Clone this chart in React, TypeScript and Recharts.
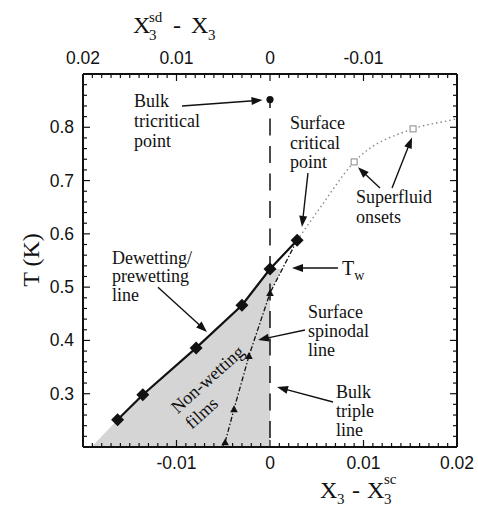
import React from 'react';
import { ComposedChart, XAxis, YAxis, Line, Area, Scatter, ReferenceLine } from 'recharts';

const SERIF = '"Liberation Serif", "Times New Roman", serif';
const SANS = '"Liberation Sans", Arial, sans-serif';
const INK = '#111';

// Dewetting / prewetting line (filled diamonds)
const dewetX = [-0.0163, -0.0136, -0.0079, -0.003, 0.0, 0.0029];
const dewetT = [0.251, 0.298, 0.386, 0.466, 0.534, 0.588];

// Shaded non-wetting region boundary (bottom corner, dewetting line up to T_w, spinodal sliver, down x=0)
const shadeX = [-0.0191, -0.0163, -0.0136, -0.0079, -0.003, 0.0, 0.0013, 0.0];
const shadeT = [0.2, 0.251, 0.298, 0.386, 0.466, 0.534, 0.534, 0.489];

// Surface spinodal line (dash-dot, small triangles)
const spinX = [0.0029, 0.0, -0.00225, -0.00385, -0.0048];
const spinT = [0.588, 0.489, 0.371, 0.271, 0.209];

// Superfluid onset curve (dotted, open squares)
const sfX = [0.0029, 0.0054, 0.009, 0.0153, 0.0195, 0.02];
const sfT = [0.588, 0.65, 0.735, 0.797, 0.814, 0.816];
const sfMarkX = [0.009, 0.0153];
const sfMarkT = [0.735, 0.797];

// Bulk tricritical point and bulk triple line
const triX = [0.0];
const triT = [0.852];
const tripleX = [0.0, 0.0];
const tripleT = [0.852, 0.2];

// Axis ticks
const xMajor = [-0.02, -0.01, 0, 0.01, 0.02];
const xBottomLabels = [-0.01, 0, 0.01, 0.02];
const xTopLabels = [-0.02, -0.01, 0, 0.01];
const xAllTicks = Array.from({ length: 41 }, (_, i) => (i - 20) / 1000);
const yMajor = [0.2, 0.3, 0.4, 0.5, 0.6, 0.7, 0.8, 0.9];
const yLabels = [0.3, 0.4, 0.5, 0.6, 0.7, 0.8];
const yAllTicks = Array.from({ length: 36 }, (_, i) => (20 + 2 * i) / 100);

// Annotations (left x, first-line centre y, line height)
const notes = [
  { x: -0.01455, y: 0.849, lh: 20, lines: ['Bulk', 'tricritical', 'point'] },
  { x: 0.00214, y: 0.808, lh: 19.5, lines: ['Surface', 'critical', 'point'] },
  { x: 0.0092, y: 0.669, lh: 20, lines: ['Superfluid', 'onsets'] },
  { x: -0.0169, y: 0.555, lh: 18.5, lines: ['Dewetting/', 'prewetting', 'line'] },
  { x: 0.00406, y: 0.453, lh: 19, lines: ['Surface', 'spinodal', 'line'] },
  { x: 0.00706, y: 0.303, lh: 19, lines: ['Bulk', 'triple', 'line'] },
];
const twNote = [{ x: 0.0077, y: 0.536 }];
const filmsNote = [{ x: -0.0103, y: 0.2698, lines: ['Non-wetting', 'films'] }];

// Arrows: from -> to
const arrows = [
  { x1: -0.00941, y1: 0.84, x2: -0.0008, y2: 0.851 },
  { x1: 0.00406, y1: 0.714, x2: 0.00342, y2: 0.613 },
  { x1: 0.01176, y1: 0.686, x2: 0.00941, y2: 0.725 },
  { x1: 0.01305, y1: 0.686, x2: 0.01519, y2: 0.781 },
  { x1: 0.00727, y1: 0.536, x2: 0.00235, y2: 0.536 },
  { x1: -0.01198, y1: 0.5, x2: -0.00674, y2: 0.416 },
  { x1: 0.00374, y1: 0.4196, x2: -0.00128, y2: 0.4008 },
  { x1: 0.00674, y1: 0.2844, x2: 0.00075, y2: 0.3126 },
];

const pts = (xs: number[], ts: number[]) => xs.map((x, i) => ({ x, y: ts[i] }));
const near = (list: number[], v: number) => list.some((l) => Math.abs(l - v) < 1e-9);
const fmt = (v: number) => (Math.abs(v) < 1e-12 ? '0' : String(v));

const MAJ = 7;
const MIN = 4;
const tickTextProps = { fontFamily: SANS, fontSize: 17.5, fill: INK };

const BottomTick = (p: any) => {
  const v = p.payload.value;
  const { x, y } = p;
  const len = near(xMajor, v) ? MAJ : MIN;
  return (
    <g>
      <line x1={x} x2={x} y1={y} y2={y - len} stroke={INK} strokeWidth={1.2} />
      {near(xBottomLabels, v) && (
        <text x={x} y={y + 22} textAnchor="middle" {...tickTextProps}>{fmt(v)}</text>
      )}
    </g>
  );
};

const TopTick = (p: any) => {
  const v = p.payload.value;
  const { x, y } = p;
  const len = near(xMajor, v) ? MAJ : MIN;
  return (
    <g>
      <line x1={x} x2={x} y1={y} y2={y + len} stroke={INK} strokeWidth={1.2} />
      {near(xTopLabels, v) && (
        <text x={x} y={y - 10} textAnchor="middle" {...tickTextProps}>{fmt(-v)}</text>
      )}
    </g>
  );
};

const LeftTick = (p: any) => {
  const v = p.payload.value;
  const { x, y } = p;
  const len = near(yMajor, v) ? MAJ : MIN;
  return (
    <g>
      <line x1={x} x2={x + len} y1={y} y2={y} stroke={INK} strokeWidth={1.2} />
      {near(yLabels, v) && (
        <text x={x - 9} y={y + 6} textAnchor="end" {...tickTextProps}>{fmt(v)}</text>
      )}
    </g>
  );
};

const RightTick = (p: any) => {
  const v = p.payload.value;
  const { x, y } = p;
  const len = near(yMajor, v) ? MAJ : MIN;
  return <line x1={x} x2={x - len} y1={y} y2={y} stroke={INK} strokeWidth={1.2} />;
};

const diamond = (p: any) => {
  const { cx, cy, index } = p;
  const s = 6.5;
  return <polygon key={`d${index}`} points={`${cx},${cy - s} ${cx + s},${cy} ${cx},${cy + s} ${cx - s},${cy}`} fill={INK} />;
};

const triangle = (p: any) => {
  const { cx, cy, index } = p;
  if (index === 0) return <g key={`t${index}`} />;
  const s = 3.8;
  return <polygon key={`t${index}`} points={`${cx},${cy - s} ${cx + s},${cy + s * 0.8} ${cx - s},${cy + s * 0.8}`} fill={INK} />;
};

const square = (p: any) => (
  <rect x={p.cx - 3} y={p.cy - 3} width={6} height={6} fill="#fff" stroke="#888" strokeWidth={1} />
);

const circle = (p: any) => <circle cx={p.cx} cy={p.cy} r={3.6} fill={INK} />;

const noteShape = (p: any) => {
  const n = p.payload;
  return (
    <text fontFamily={SERIF} fontSize={18} fill={INK}>
      {n.lines.map((l: string, i: number) => (
        <tspan key={i} x={p.cx} y={p.cy + i * n.lh + 6}>
          {l}
        </tspan>
      ))}
    </text>
  );
};

const twShape = (p: any) => (
  <text x={p.cx} y={p.cy + 7} fontFamily={SERIF} fontSize={20} fill={INK}>
    T<tspan fontSize={14} dy={5}>w</tspan>
  </text>
);

const filmsShape = (p: any) => {
  const n = p.payload;
  return (
    <g transform={`translate(${p.cx},${p.cy}) rotate(-42)`}>
      <text fontFamily={SERIF} fontSize={18} fill={INK}>
        <tspan x={0} y={6}>{n.lines[0]}</tspan>
        <tspan x={0} y={27}>{n.lines[1]}</tspan>
      </text>
    </g>
  );
};

const arrowShape = (p: any) => {
  const { x1, y1, x2, y2 } = p;
  const dx = x2 - x1;
  const dy = y2 - y1;
  const len = Math.hypot(dx, dy) || 1;
  const ux = dx / len;
  const uy = dy / len;
  const hl = 11;
  const hw = 4;
  const bx = x2 - ux * hl;
  const by = y2 - uy * hl;
  return (
    <g>
      <line x1={x1} y1={y1} x2={bx + ux * 2} y2={by + uy * 2} stroke={INK} strokeWidth={1.4} />
      <polygon points={`${x2},${y2} ${bx - uy * hw},${by + ux * hw} ${bx + uy * hw},${by - ux * hw}`} fill={INK} />
    </g>
  );
};

const frame = { stroke: INK, strokeWidth: 2 };
const DOM: [number, number] = [-0.02, 0.02];
const YDOM: [number, number] = [0.2, 0.9];

export default function App() {
  return (
    <div style={{ position: 'absolute', left: 0, top: 0, width: 478, height: 508, background: '#fff' }}>
      <ComposedChart width={478} height={508} margin={{ top: 73, right: 20, bottom: 60, left: 82 }}>
        <XAxis xAxisId="b" dataKey="x" type="number" orientation="bottom" domain={DOM} allowDataOverflow ticks={xAllTicks} interval={0} height={1} tickLine={false} tickSize={0} tickMargin={0} axisLine={frame} tick={BottomTick} />
        <XAxis xAxisId="t" dataKey="x" type="number" orientation="top" domain={DOM} allowDataOverflow ticks={xAllTicks} interval={0} height={1} tickLine={false} tickSize={0} tickMargin={0} axisLine={frame} tick={TopTick} />
        <YAxis yAxisId="l" dataKey="y" type="number" orientation="left" domain={YDOM} allowDataOverflow ticks={yAllTicks} interval={0} width={1} tickLine={false} tickSize={0} tickMargin={0} axisLine={frame} tick={LeftTick} />
        <YAxis yAxisId="r" dataKey="y" type="number" orientation="right" domain={YDOM} allowDataOverflow ticks={yAllTicks} interval={0} width={1} tickLine={false} tickSize={0} tickMargin={0} axisLine={frame} tick={RightTick} />

        <Area xAxisId="b" yAxisId="l" data={pts(shadeX, shadeT)} dataKey="y" type="linear" baseValue={0.2} fill="#d5d5d5" fillOpacity={1} stroke="none" isAnimationActive={false} dot={false} activeDot={false} />

        <Line xAxisId="b" yAxisId="l" data={pts(tripleX, tripleT)} dataKey="y" type="linear" stroke={INK} strokeWidth={1.5} strokeDasharray="17 10.5" strokeDashoffset={8.5} dot={false} activeDot={false} isAnimationActive={false} />

        <Line xAxisId="b" yAxisId="l" data={pts(sfX, sfT)} dataKey="y" type="monotone" stroke="#888" strokeWidth={1.4} strokeDasharray="1.5 3" dot={false} activeDot={false} isAnimationActive={false} />
        <Scatter xAxisId="b" yAxisId="l" data={pts(sfMarkX, sfMarkT)} shape={square} isAnimationActive={false} />

        <Line xAxisId="b" yAxisId="l" data={pts(spinX, spinT)} dataKey="y" type="linear" stroke={INK} strokeWidth={1.3} strokeDasharray="5 2 1.5 2" dot={triangle} activeDot={false} isAnimationActive={false} />

        <Line xAxisId="b" yAxisId="l" data={pts(dewetX, dewetT)} dataKey="y" type="linear" stroke={INK} strokeWidth={2.2} dot={diamond} activeDot={false} isAnimationActive={false} />

        <Scatter xAxisId="b" yAxisId="l" data={pts(triX, triT)} shape={circle} isAnimationActive={false} />

        {arrows.map((a, i) => (
          <ReferenceLine key={i} xAxisId="b" yAxisId="l" segment={[{ x: a.x1, y: a.y1 }, { x: a.x2, y: a.y2 }]} shape={arrowShape} ifOverflow="visible" />
        ))}

        <Scatter xAxisId="b" yAxisId="l" data={notes} shape={noteShape} isAnimationActive={false} />
        <Scatter xAxisId="b" yAxisId="l" data={twNote} shape={twShape} isAnimationActive={false} />
        <Scatter xAxisId="b" yAxisId="l" data={filmsNote} shape={filmsShape} isAnimationActive={false} />
      </ComposedChart>

      <svg width={478} height={508} style={{ position: 'absolute', left: 0, top: 0, pointerEvents: 'none' }}>
        <g fontFamily={SERIF} fill={INK}>
          <text x={133} y={33} fontSize={24}>X</text>
          <text x={149} y={40} fontSize={15}>3</text>
          <text x={149} y={22} fontSize={15}>sd</text>
          <text x={173} y={33} fontSize={24}>-</text>
          <text x={191} y={33} fontSize={24}>X</text>
          <text x={208} y={40} fontSize={15}>3</text>

          <text x={320} y={498} fontSize={24}>X</text>
          <text x={337} y={504} fontSize={15}>3</text>
          <text x={352} y={498} fontSize={24}>-</text>
          <text x={367} y={498} fontSize={24}>X</text>
          <text x={384} y={504} fontSize={15}>3</text>
          <text x={384} y={484} fontSize={15}>sc</text>

          <text x={0} y={0} fontSize={24} textAnchor="middle" transform="translate(39,260) rotate(-90)">T (K)</text>
        </g>
      </svg>
    </div>
  );
}
